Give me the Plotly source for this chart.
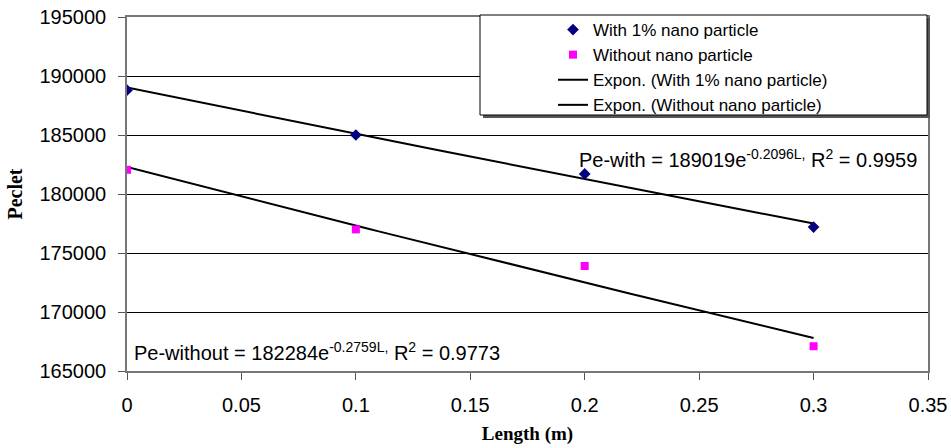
import numpy as np
import plotly.graph_objects as go

# ---- data ----
length_m = [0.0, 0.1, 0.2, 0.3]
pe_with = [188800, 185000, 181700, 177200]
pe_without = [182050, 177000, 173900, 167100]

# exponential trendline coefficients printed on the chart
with_a, with_b = 189019, -0.2096
without_a, without_b = 182284, -0.2759

x_ticks = [0, 0.05, 0.1, 0.15, 0.2, 0.25, 0.3, 0.35]
x_tick_text = ["0", "0.05", "0.1", "0.15", "0.2", "0.25", "0.3", "0.35"]
y_ticks = [165000, 170000, 175000, 180000, 185000, 190000, 195000]
y_tick_text = ["165000", "170000", "175000", "180000", "185000", "190000", "195000"]

L = np.linspace(min(length_m), max(length_m), 61)
trend_with = with_a * np.exp(with_b * L)
trend_without = without_a * np.exp(without_b * L)

fig = go.Figure()
fig.add_trace(go.Scatter(x=L, y=trend_with, mode="lines",
                         line=dict(color="black", width=2),
                         name="Expon. (With 1% nano particle)", legendrank=3))
fig.add_trace(go.Scatter(x=L, y=trend_without, mode="lines",
                         line=dict(color="black", width=2),
                         name="Expon. (Without nano particle)", legendrank=4))
fig.add_trace(go.Scatter(x=length_m, y=pe_with, mode="markers",
                         marker=dict(symbol="diamond", color="#000080", size=9),
                         name="With 1% nano particle", legendrank=1))
fig.add_trace(go.Scatter(x=length_m, y=pe_without, mode="markers",
                         marker=dict(symbol="square", color="#FF00FF", size=8),
                         name="Without nano particle", legendrank=2))

W, H = 951, 448
ml, mr, mt, mb = 127, 23, 17, 77
pw, ph = W - ml - mr, H - mt - mb


def px_x(p):
    return (p - ml) / pw


def px_y(p):
    return (H - mb - p) / ph


# legend box (white with border and shadow)
bx0, bx1, by0, by1 = 480, 927, 15, 115
fig.add_shape(type="rect", xref="paper", yref="paper",
              x0=px_x(bx0 + 3), x1=px_x(bx1 + 3), y0=px_y(by1 + 3), y1=px_y(by0 + 3),
              fillcolor="#555555", line=dict(width=0), layer="above")
fig.add_shape(type="rect", xref="paper", yref="paper",
              x0=px_x(bx0), x1=px_x(bx1), y0=px_y(by1), y1=px_y(by0),
              fillcolor="white", line=dict(color="black", width=1), layer="above")

fig.add_annotation(x=px_x(577), y=px_y(158), xref="paper", yref="paper",
                   text="Pe-with = 189019e<sup>-0.2096L,</sup> R<sup>2</sup> = 0.9959",
                   showarrow=False, xanchor="left", yanchor="middle",
                   font=dict(family="Liberation Sans, Arial", size=20, color="black"))
fig.add_annotation(x=px_x(132), y=px_y(351), xref="paper", yref="paper",
                   text="Pe-without = 182284e<sup>-0.2759L,</sup> R<sup>2</sup> = 0.9773",
                   showarrow=False, xanchor="left", yanchor="middle",
                   font=dict(family="Liberation Sans, Arial", size=20, color="black"))

fig.update_layout(
    width=W, height=H,
    margin=dict(l=ml, r=mr, t=mt, b=mb, autoexpand=False),
    paper_bgcolor="white", plot_bgcolor="white",
    font=dict(family="Liberation Sans, Arial", size=20, color="black"),
    legend=dict(x=px_x(553), y=px_y(12), xanchor="left", yanchor="top",
                bgcolor="rgba(0,0,0,0)", borderwidth=0,
                font=dict(family="Liberation Sans, Arial", size=17, color="black"),
                tracegroupgap=0, itemwidth=30),
    showlegend=True,
)
fig.update_xaxes(range=[0, 0.35], tickvals=x_ticks, ticktext=x_tick_text,
                 showgrid=False, zeroline=False, automargin=False,
                 showline=True, linecolor="#777777", linewidth=1.5, mirror=True,
                 ticks="outside", ticklen=7, tickcolor="#555555",
                 ticklabelstandoff=8,
                 title=dict(text="<b>Length (m)</b>", standoff=12,
                            font=dict(family="Liberation Serif, Times New Roman", size=19)))
fig.update_yaxes(range=[165000, 195000], tickvals=y_ticks, ticktext=y_tick_text,
                 showgrid=True, gridcolor="black", gridwidth=1, zeroline=False,
                 automargin=False,
                 showline=True, linecolor="#777777", linewidth=1.5, mirror=True,
                 ticks="outside", ticklen=7, tickcolor="#555555",
                 ticklabelstandoff=8,
                 title=dict(text="<b>Peclet</b>", standoff=12,
                            font=dict(family="Liberation Serif, Times New Roman", size=20)))

fig.write_html("out.html")
